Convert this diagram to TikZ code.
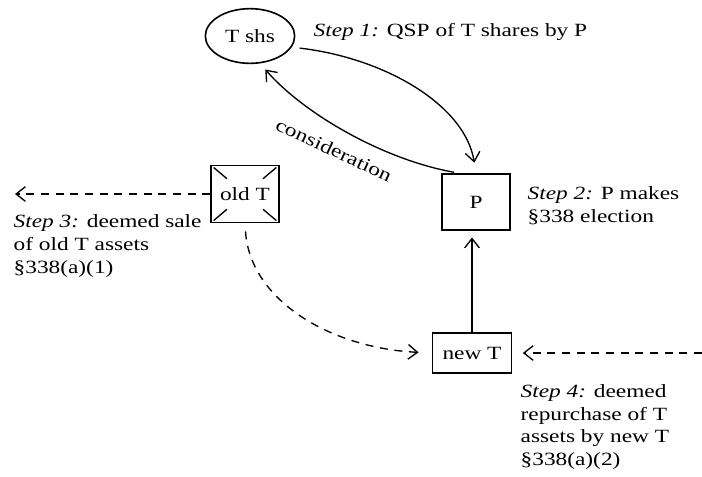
\documentclass[tikz,border=0pt]{standalone}
\usepackage{fontspec}
\setmainfont{Liberation Serif}[FakeStretch=1.25]
\usetikzlibrary{shapes.geometric}
\usetikzlibrary{arrows.meta}
\usetikzlibrary{calc}
\tikzset{
	entity/.style={draw,line width=1.2pt,inner sep=0pt},
	note/.style={anchor=west,align=left,inner sep=0pt},
	deemed/.style={dash pattern=on 6pt off 5pt,->},
}

\begin{document}
\begin{tikzpicture}[x=0.75pt,y=-0.75pt,line width=1pt,
	>={Straight Barb[length=7pt,width=11pt]},
	font=\fontsize{14pt}{17pt}\selectfont]
	\useasboundingbox (0,0) rectangle (702,476);

	\node[entity,ellipse,minimum width=67pt,minimum height=41pt] (tshs) at (250,36) {T shs};
	\node[entity,minimum width=51pt,minimum height=42pt] (P) at (476,202) {P};
	\node[entity,minimum width=51pt,minimum height=43pt] (oldT) at (245,194) {old T};
	\node[entity,minimum width=59pt,minimum height=30pt] (newT) at (472,353) {new T};
	\foreach \corner in {north west,north east,south west,south east}
		\draw ($(oldT.\corner)!0.1!(oldT.center)$) -- ($(oldT.\corner)!0.48!(oldT.center)$);

	\node[note] (step1) at (313,32) {\textit{Step 1:} QSP of T shares by P};
	\node[note] (step2) at (527,206) {\textit{Step 2:} P makes\\\S338 election};
	\node[note] (step3) at (13,246) {\textit{Step 3:} deemed sale\\of old T assets\\\S338(a)(1)};
	\node[note] (step4) at (520,427) {\textit{Step 4:} deemed\\repurchase of T\\assets by new T\\\S338(a)(2)};
	\node[rotate=-25,inner sep=0pt] (consid) at (334,150) {consideration};

	\draw[->,shorten <=6pt,shorten >=8pt] (tshs.-15) .. controls (385,58) and (465,105) .. (P.north);
	\draw[->,shorten <=4pt,shorten >=6pt] (P.120) .. controls (385,160) and (305,115) .. (tshs.-70);
	\draw[->,shorten >=5pt] (newT.north) -- (newT.north |- P.south);

	\coordinate (westend) at (15,194);
	\coordinate (eastend) at (702,353);
	\draw[deemed] (oldT.west) -- (westend);
	\draw[deemed,shorten >=8pt] (eastend) -- (newT.east);
	\draw[deemed,shorten <=6pt,shorten >=10pt] (oldT.south) .. controls (250,300) and (330,348) .. (newT.west);
\end{tikzpicture}
\end{document}
